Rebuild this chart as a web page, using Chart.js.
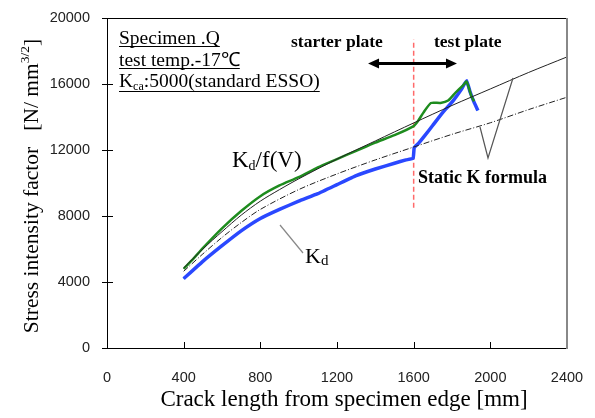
<!DOCTYPE html>
<html>
<head>
<meta charset="utf-8">
<script src="https://cdn.jsdelivr.net/npm/chart.js@4/dist/chart.umd.min.js"></script>
<style>
  html, body { margin: 0; padding: 0; background: #fff; }
  #wrap { width: 595px; height: 418px; }
</style>
</head>
<body>
<div id="wrap"><canvas id="chart" width="595" height="418"></canvas></div>
<script>
/* ---- Data (crack length mm / K in N/mm^3/2) ---- */
const xTicks = [0, 400, 800, 1200, 1600, 2000, 2400];
const yTicks = [0, 4000, 8000, 12000, 16000, 20000];

// Static K formula (upper, solid)
const staticX = [400, 500, 600, 700, 800, 900, 1000, 1200, 1400, 1600, 1800, 2000, 2200, 2400];
const staticK = [4850, 6000, 7050, 8050, 8900, 9600, 10250, 11450, 12550, 13640, 14700, 15700, 16700, 17640];

// Static K formula (lower, dash-dot)
const staticLowX = [400, 500, 600, 700, 800, 1000, 1200, 1400, 1600, 1800, 2000, 2200, 2400];
const staticLowK = [4650, 5700, 6700, 7600, 8400, 9600, 10550, 11400, 12180, 12950, 13650, 14450, 15200];

// Kd/f(V)
const kdfX = [400, 450, 500, 600, 700, 800, 900, 1000, 1100, 1200, 1300, 1400, 1500, 1600, 1625, 1650, 1690, 1740, 1780, 1820, 1860, 1876, 1900, 1915];
const kdfK = [4800, 5400, 6050, 7250, 8300, 9200, 9850, 10350, 10950, 11450, 11950, 12450, 12900, 13450, 13800, 14250, 14850, 14850, 15000, 15500, 15950, 16150, 15300, 14950];

// Kd
const kdX = [400, 500, 600, 700, 800, 900, 1000, 1100, 1200, 1300, 1400, 1500, 1560, 1597, 1603, 1625, 1660, 1700, 1750, 1800, 1850, 1876, 1895, 1915, 1935];
const kdK = [4200, 5250, 6200, 7100, 7850, 8400, 8900, 9350, 9900, 10450, 10850, 11200, 11400, 11500, 12150, 12400, 12900, 13500, 14250, 14900, 15700, 16200, 15500, 14900, 14400];

// starter / test plate boundary
const boundaryX = [1600, 1600];
const boundaryK = [8500, 18700];

const pts = (xs, ys) => xs.map((x, i) => ({ x: x, y: ys[i] }));

const SERIF = '"Liberation Serif", "Times New Roman", serif';
const SANS = '"Liberation Sans", Arial, sans-serif';

/* ---- Overlay: frame, ticks, labels, arrow ---- */
function txt(ctx, parts, x, y) {
  // parts: [text, size, dy, bold]
  let cx = x;
  parts.forEach(p => {
    ctx.font = (p[3] ? 'bold ' : '') + p[1] + 'px ' + SERIF;
    ctx.fillText(p[0], cx, y + (p[2] || 0));
    cx += ctx.measureText(p[0]).width;
  });
  return cx - x;
}

const overlay = {
  id: 'overlay',
  afterDatasetsDraw(chart) {
    const ctx = chart.ctx;
    const xs = chart.scales.x, ys = chart.scales.y;
    const a = chart.chartArea;
    ctx.save();

    // arrow between plates
    const ay = ys.getPixelForValue(17250);
    const ax1 = xs.getPixelForValue(1362), ax2 = xs.getPixelForValue(1826);
    ctx.strokeStyle = '#000';
    ctx.fillStyle = '#000';
    ctx.lineWidth = 3;
    ctx.beginPath();
    ctx.moveTo(ax1 + 8, ay); ctx.lineTo(ax2 - 8, ay);
    ctx.stroke();
    ctx.beginPath();
    ctx.moveTo(ax1, ay); ctx.lineTo(ax1 + 11, ay - 5); ctx.lineTo(ax1 + 11, ay + 5); ctx.closePath();
    ctx.moveTo(ax2, ay); ctx.lineTo(ax2 - 11, ay - 5); ctx.lineTo(ax2 - 11, ay + 5); ctx.closePath();
    ctx.fill();

    // leader lines
    ctx.strokeStyle = '#888';
    ctx.lineWidth = 1.2;
    ctx.beginPath();
    ctx.moveTo(280, 225); ctx.lineTo(303, 253);
    ctx.stroke();
    ctx.strokeStyle = '#555';
    ctx.beginPath();
    ctx.moveTo(480, 127); ctx.lineTo(488, 158); ctx.lineTo(513, 78);
    ctx.stroke();

    // texts
    ctx.fillStyle = '#000';
    ctx.textBaseline = 'alphabetic';
    ctx.textAlign = 'left';
    txt(ctx, [['starter plate', 17.5, 0, true]], 291, 47);
    txt(ctx, [['test plate', 17.5, 0, true]], 434, 47);
    txt(ctx, [['Static K formula', 18, 0, true]], 418, 183);
    txt(ctx, [['K', 23], ['d', 14, 3], ['/f(V)', 23]], 232, 167);
    txt(ctx, [['K', 22], ['d', 15, 2]], 305, 263);

    // specimen block, underlined
    ctx.lineWidth = 1;
    ctx.strokeStyle = '#000';
    const rows = [
      [[['Specimen .Q', 19.5]], 44, 46.5],
      [[['test temp.-17℃', 19.5]], 66, 68.5],
      [[['K', 19.5], ['ca', 12, 3], [':5000(standard ESSO)', 19.5]], 87, 91.5]
    ];
    rows.forEach(r => {
      const w = txt(ctx, r[0], 119, r[1]);
      ctx.beginPath();
      ctx.moveTo(119, r[2]); ctx.lineTo(119 + w, r[2]);
      ctx.stroke();
    });

    // inward ticks
    ctx.strokeStyle = '#000';
    ctx.lineWidth = 1;
    ctx.beginPath();
    yTicks.forEach(v => {
      const py = Math.round(ys.getPixelForValue(v)) + 0.5;
      ctx.moveTo(a.left - 5, py); ctx.lineTo(a.left + 6, py);
    });
    xTicks.forEach(v => {
      const px = Math.round(xs.getPixelForValue(v)) + 0.5;
      ctx.moveTo(px, a.bottom); ctx.lineTo(px, a.bottom - 6);
    });
    ctx.stroke();

    // frame
    ctx.beginPath();
    ctx.moveTo(a.right, a.top + 0.5); ctx.lineTo(a.left + 0.5, a.top + 0.5);
    ctx.lineTo(a.left + 0.5, a.bottom + 0.5); ctx.lineTo(a.right, a.bottom + 0.5);
    ctx.stroke();
    ctx.strokeStyle = '#888';
    ctx.lineWidth = 2;
    ctx.beginPath();
    ctx.moveTo(a.right, a.top); ctx.lineTo(a.right, a.bottom + 1);
    ctx.stroke();

    // axis titles
    ctx.fillStyle = '#000';
    ctx.textAlign = 'center';
    ctx.font = '23px ' + SERIF;
    ctx.fillText('Crack length from specimen edge [mm]', 344, 406);

    ctx.translate(38, 186);
    ctx.rotate(-Math.PI / 2);
    ctx.textAlign = 'left';
    const yParts = [['Stress intensity factor   [N/ mm', 21.5], ['3/2', 13.5, -9], [']', 21.5]];
    let tw = 0;
    yParts.forEach(p => { ctx.font = p[1] + 'px ' + SERIF; tw += ctx.measureText(p[0]).width; });
    txt(ctx, yParts, -tw / 2, 0);

    ctx.restore();
  }
};

/* ---- Chart ---- */
new Chart(document.getElementById('chart'), {
  type: 'scatter',
  data: {
    datasets: [
      {
        label: 'Static K (lower)',
        data: pts(staticLowX, staticLowK),
        showLine: true,
        borderColor: '#222',
        borderWidth: 1,
        borderDash: [6, 2, 1, 2],
        pointRadius: 0,
        tension: 0.3
      },
      {
        label: 'Static K',
        data: pts(staticX, staticK),
        showLine: true,
        borderColor: '#222',
        borderWidth: 1,
        pointRadius: 0,
        tension: 0.3
      },
      {
        label: 'Kd/f(V)',
        data: pts(kdfX, kdfK),
        showLine: true,
        borderColor: '#1e8c1e',
        borderWidth: 2.5,
        pointRadius: 0,
        tension: 0.2
      },
      {
        label: 'Kd (scatter)',
        data: pts(kdX, kdK),
        showLine: true,
        borderColor: '#2a48ff',
        borderWidth: 3.5,
        pointRadius: 0,
        tension: 0.1
      },
      {
        label: 'Kd',
        data: pts(kdX, kdK),
        showLine: true,
        borderColor: '#22d4ff',
        borderWidth: 1.5,
        pointRadius: 0,
        tension: 0.1
      },
      {
        label: 'boundary',
        data: pts(boundaryX, boundaryK),
        showLine: true,
        borderColor: '#ff6a6a',
        borderWidth: 1.5,
        borderDash: [5, 3],
        pointRadius: 0
      }
    ]
  },
  options: {
    responsive: false,
    animation: false,
    layout: { padding: { top: 18, right: 28, left: 0, bottom: 0 } },
    plugins: { legend: { display: false }, tooltip: { enabled: false } },
    scales: {
      x: {
        type: 'linear',
        min: 0, max: 2400,
        afterBuildTicks: s => { s.ticks = xTicks.map(v => ({ value: v })); },
        afterFit: s => { s.height = 70; s.paddingLeft = 0; s.paddingRight = 0; },
        grid: { display: false, drawTicks: false },
        border: { display: false },
        ticks: { color: '#222', padding: 21, maxRotation: 0, font: { family: SANS, size: 14.5 }, callback: v => String(v) }
      },
      y: {
        type: 'linear',
        min: 0, max: 20000,
        afterBuildTicks: s => { s.ticks = yTicks.map(v => ({ value: v })); },
        afterFit: s => { s.width = 107; s.paddingTop = 0; s.paddingBottom = 0; },
        grid: { display: false, drawTicks: false },
        border: { display: false },
        ticks: { color: '#222', padding: 17, font: { family: SANS, size: 14.5 }, callback: v => String(v) }
      }
    }
  },
  plugins: [overlay]
});
</script>
</body>
</html>
